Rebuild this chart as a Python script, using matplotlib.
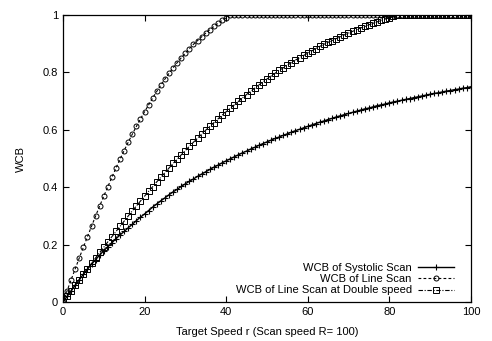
import numpy as np
import matplotlib
matplotlib.use('Agg')
import matplotlib.pyplot as plt

plt.rcParams['font.family'] = ['Liberation Sans', 'DejaVu Sans']

# target speed r = 0..100, one point per unit
r = list(range(0, 101))

systolic = [0.000, 0.020, 0.039, 0.059, 0.078, 0.097, 0.115, 0.132, 0.148, 0.164,
            0.179, 0.193, 0.207, 0.221, 0.234, 0.246, 0.259, 0.271, 0.284, 0.296,
            0.307, 0.319, 0.331, 0.342, 0.353, 0.363, 0.374, 0.384, 0.393, 0.403,
            0.412, 0.421, 0.429, 0.438, 0.446, 0.454, 0.462, 0.470, 0.477, 0.485,
            0.492, 0.499, 0.506, 0.513, 0.520, 0.526, 0.533, 0.539, 0.546, 0.552,
            0.558, 0.564, 0.570, 0.575, 0.581, 0.586, 0.592, 0.597, 0.602, 0.607,
            0.612, 0.617, 0.622, 0.627, 0.631, 0.636, 0.640, 0.645, 0.649, 0.653,
            0.657, 0.661, 0.665, 0.669, 0.673, 0.676, 0.680, 0.684, 0.687, 0.690,
            0.694, 0.697, 0.700, 0.703, 0.706, 0.709, 0.712, 0.715, 0.718, 0.721,
            0.724, 0.727, 0.729, 0.732, 0.735, 0.737, 0.740, 0.742, 0.745, 0.747,
            0.750]

line_scan = [0.000, 0.039, 0.078, 0.116, 0.154, 0.191, 0.228, 0.264, 0.300, 0.335,
             0.369, 0.402, 0.435, 0.467, 0.498, 0.528, 0.557, 0.585, 0.612, 0.638,
             0.663, 0.687, 0.711, 0.734, 0.756, 0.777, 0.797, 0.816, 0.834, 0.851,
             0.867, 0.883, 0.898, 0.911, 0.924, 0.937, 0.949, 0.960, 0.971, 0.981,
             0.990, 1.000, 1.000, 1.000, 1.000, 1.000, 1.000, 1.000, 1.000, 1.000,
             1.000, 1.000, 1.000, 1.000, 1.000, 1.000, 1.000, 1.000, 1.000, 1.000,
             1.000, 1.000, 1.000, 1.000, 1.000, 1.000, 1.000, 1.000, 1.000, 1.000,
             1.000, 1.000, 1.000, 1.000, 1.000, 1.000, 1.000, 1.000, 1.000, 1.000,
             1.000, 1.000, 1.000, 1.000, 1.000, 1.000, 1.000, 1.000, 1.000, 1.000,
             1.000, 1.000, 1.000, 1.000, 1.000, 1.000, 1.000, 1.000, 1.000, 1.000,
             1.000]

double_speed = [0.000, 0.020, 0.039, 0.059, 0.078, 0.097, 0.116, 0.135, 0.154, 0.173,
                0.191, 0.210, 0.228, 0.246, 0.264, 0.282, 0.300, 0.318, 0.335, 0.352,
                0.369, 0.386, 0.402, 0.419, 0.435, 0.451, 0.467, 0.483, 0.498, 0.513,
                0.528, 0.543, 0.557, 0.571, 0.585, 0.599, 0.612, 0.625, 0.638, 0.651,
                0.663, 0.675, 0.687, 0.699, 0.711, 0.723, 0.734, 0.745, 0.756, 0.767,
                0.777, 0.787, 0.797, 0.807, 0.816, 0.825, 0.834, 0.843, 0.851, 0.859,
                0.867, 0.875, 0.883, 0.891, 0.898, 0.905, 0.911, 0.918, 0.924, 0.931,
                0.937, 0.943, 0.949, 0.955, 0.960, 0.966, 0.971, 0.976, 0.981, 0.986,
                0.990, 0.995, 1.000, 1.000, 1.000, 1.000, 1.000, 1.000, 1.000, 1.000,
                1.000, 1.000, 1.000, 1.000, 1.000, 1.000, 1.000, 1.000, 1.000, 1.000,
                1.000]

labels = ['WCB of Systolic Scan', 'WCB of Line Scan', 'WCB of Line Scan at Double speed']

fig = plt.figure(figsize=(4.92, 3.41), dpi=100)
ax = fig.add_axes([0.128, 0.114, 0.829, 0.842])

ax.plot(r, systolic, color='black', lw=1.0, ls='-', marker='+', ms=4.5, mew=0.8,
        label=labels[0])
ax.plot(r, line_scan, color='black', lw=0.8, ls=(0, (2.5, 2)), marker='o', ms=3.6,
        mfc='none', mew=0.7, label=labels[1])
ax.plot(r, double_speed, color='black', lw=0.8, ls=(0, (4, 1.5, 1, 1.5)), marker='s',
        ms=3.8, mfc='none', mew=0.7, label=labels[2])

ax.set_xlim(0, 100)
ax.set_ylim(0, 1)
ax.set_xticks([0, 20, 40, 60, 80, 100])
ax.set_yticks([0, 0.2, 0.4, 0.6, 0.8, 1.0])
ax.set_yticklabels(['0', '0.2', '0.4', '0.6', '0.8', '1'])
ax.tick_params(direction='in', top=True, right=True, labelsize=8, length=4, width=0.8)
for sp in ax.spines.values():
    sp.set_linewidth(0.9)

ax.set_xlabel('Target Speed r (Scan speed R= 100)', fontsize=8, labelpad=7)
ax.set_ylabel('WCB', fontsize=8, labelpad=12)

leg = ax.legend(loc='lower right', bbox_to_anchor=(0.975, 0.0), frameon=False,
                fontsize=8, markerfirst=False, handlelength=3.2, handletextpad=0.6,
                labelspacing=0.1, borderaxespad=0.2)
for t in leg.get_texts():
    t.set_ha('right')
leg._legend_box.align = 'right'

fig.savefig('out.png', dpi=100)
